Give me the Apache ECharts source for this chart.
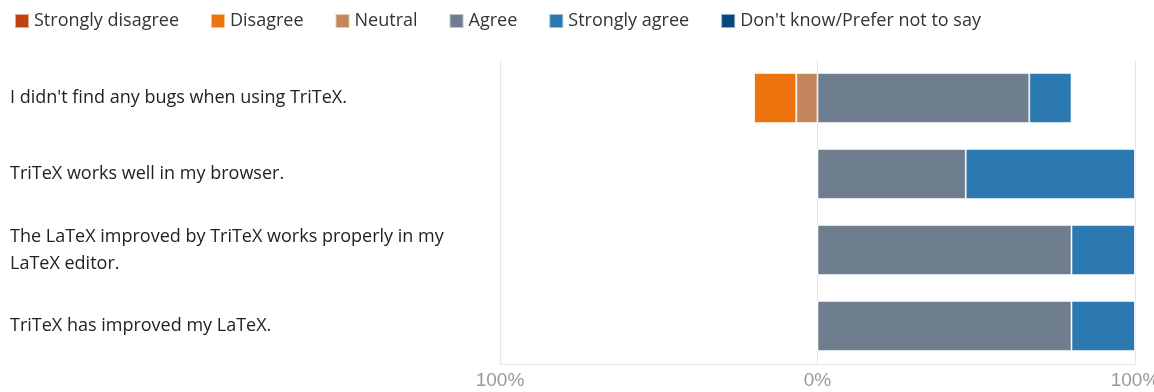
<!DOCTYPE html>
<html>
<head>
<meta charset="utf-8">
<style>
  html, body { margin: 0; padding: 0; background: #ffffff; }
  #chart { width: 1154px; height: 392px; }
</style>
<script src="https://cdn.jsdelivr.net/npm/echarts@6/dist/echarts.min.js"></script>
</head>
<body>
<div id="chart"></div>
<script>
// Statements (top to bottom)
const categories = [
  "I didn't find any bugs when using TriTeX.",
  "TriTeX works well in my browser.",
  "The LaTeX improved by TriTeX works properly in my LaTeX editor.",
  "TriTeX has improved my LaTeX."
];
// Percentages of respondents (negative side shown to the left of 0)
const stronglyDisagree = [0, 0, 0, 0];
const disagree = [13.3, 0, 0, 0];
const neutral = [6.7, 0, 0, 0];
const agree = [66.7, 46.7, 80, 80];
const stronglyAgree = [13.3, 53.3, 20, 20];
const dontKnow = [0, 0, 0, 0];
const legendNames = ["Strongly disagree", "Disagree", "Neutral", "Agree", "Strongly agree", "Don't know/Prefer not to say"];
const xTicks = [-100, 0, 100];

const colors = {
  "Strongly disagree": "#bf4210",
  "Disagree": "#ed730c",
  "Neutral": "#c3865d",
  "Agree": "#6f7e8e",
  "Strongly agree": "#2b79b0",
  "Don't know/Prefer not to say": "#084780"
};

const neg = v => v.map(x => -x);
function mk(name, data) {
  return {
    name: name,
    type: 'bar',
    stack: 'likert',
    barWidth: 50,
    data: data,
    itemStyle: { color: colors[name], borderColor: 'rgba(255,255,255,0.55)', borderWidth: 1 },
    emphasis: { disabled: true }
  };
}

const chart = echarts.init(document.getElementById('chart'), null, { renderer: 'canvas' });
chart.setOption({
  animation: false,
  textStyle: { fontFamily: 'Open Sans' },
  legend: {
    data: legendNames,
    left: 9,
    top: 7,
    itemWidth: 14,
    itemHeight: 14,
    itemGap: 31,
    icon: 'rect',
    textStyle: { fontSize: 18, color: '#333', fontFamily: 'Open Sans' },
    selectedMode: false
  },
  grid: { left: 500, right: 19, top: 60, bottom: 28, containLabel: false, outerBoundsMode: 'none' },
  xAxis: {
    type: 'value',
    min: xTicks[0],
    max: xTicks[xTicks.length - 1],
    interval: 100,
    axisLine: { show: true, lineStyle: { color: '#e6e6e6' } },
    axisTick: { show: false },
    splitLine: { show: true, lineStyle: { color: '#e6e6e6', width: 1 } },
    axisLabel: {
      formatter: v => Math.abs(v) + '%',
      color: '#999',
      fontSize: 19,
      fontFamily: 'Liberation Sans',
      margin: 7,
      hideOverlap: false
    }
  },
  yAxis: {
    type: 'category',
    data: categories,
    inverse: true,
    axisLine: { show: false },
    axisTick: { show: false },
    splitLine: { show: false },
    axisLabel: {
      align: 'left',
      margin: 490,
      width: 455,
      overflow: 'break',
      fontSize: 18,
      lineHeight: 27,
      color: '#222',
      fontFamily: 'Open Sans'
    }
  },
  series: [
    mk("Neutral", neg(neutral)),
    mk("Disagree", neg(disagree)),
    mk("Strongly disagree", neg(stronglyDisagree)),
    mk("Agree", agree),
    mk("Strongly agree", stronglyAgree),
    mk("Don't know/Prefer not to say", dontKnow)
  ]
});
</script>
</body>
</html>
